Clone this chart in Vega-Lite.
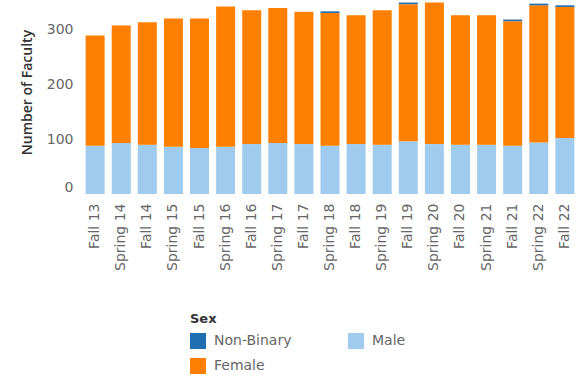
{
  "$schema": "https://vega.github.io/schema/vega-lite/v6.json",
  "autosize": "none",
  "width": 494,
  "height": 192,
  "padding": {"left": 83, "top": 2, "right": 0, "bottom": 183},
  "background": "white",
  "config": {
    "view": {"stroke": null},
    "font": "DejaVu Sans"
  },
  "data": {
    "values": [
      {"term": "Fall 13", "sex": "Male", "n": 88}, {"term": "Fall 13", "sex": "Female", "n": 201}, {"term": "Fall 13", "sex": "Non-Binary", "n": 0},
      {"term": "Spring 14", "sex": "Male", "n": 93}, {"term": "Spring 14", "sex": "Female", "n": 214}, {"term": "Spring 14", "sex": "Non-Binary", "n": 0},
      {"term": "Fall 14", "sex": "Male", "n": 90}, {"term": "Fall 14", "sex": "Female", "n": 223}, {"term": "Fall 14", "sex": "Non-Binary", "n": 0},
      {"term": "Spring 15", "sex": "Male", "n": 86}, {"term": "Spring 15", "sex": "Female", "n": 234}, {"term": "Spring 15", "sex": "Non-Binary", "n": 0},
      {"term": "Fall 15", "sex": "Male", "n": 84}, {"term": "Fall 15", "sex": "Female", "n": 236}, {"term": "Fall 15", "sex": "Non-Binary", "n": 0},
      {"term": "Spring 16", "sex": "Male", "n": 86}, {"term": "Spring 16", "sex": "Female", "n": 256}, {"term": "Spring 16", "sex": "Non-Binary", "n": 0},
      {"term": "Fall 16", "sex": "Male", "n": 91}, {"term": "Fall 16", "sex": "Female", "n": 244}, {"term": "Fall 16", "sex": "Non-Binary", "n": 0},
      {"term": "Spring 17", "sex": "Male", "n": 93}, {"term": "Spring 17", "sex": "Female", "n": 246}, {"term": "Spring 17", "sex": "Non-Binary", "n": 0},
      {"term": "Fall 17", "sex": "Male", "n": 91}, {"term": "Fall 17", "sex": "Female", "n": 241}, {"term": "Fall 17", "sex": "Non-Binary", "n": 0},
      {"term": "Spring 18", "sex": "Male", "n": 88}, {"term": "Spring 18", "sex": "Female", "n": 242}, {"term": "Spring 18", "sex": "Non-Binary", "n": 3},
      {"term": "Fall 18", "sex": "Male", "n": 91}, {"term": "Fall 18", "sex": "Female", "n": 235}, {"term": "Fall 18", "sex": "Non-Binary", "n": 0},
      {"term": "Spring 19", "sex": "Male", "n": 90}, {"term": "Spring 19", "sex": "Female", "n": 245}, {"term": "Spring 19", "sex": "Non-Binary", "n": 0},
      {"term": "Fall 19", "sex": "Male", "n": 96}, {"term": "Fall 19", "sex": "Female", "n": 250}, {"term": "Fall 19", "sex": "Non-Binary", "n": 3},
      {"term": "Spring 20", "sex": "Male", "n": 91}, {"term": "Spring 20", "sex": "Female", "n": 258}, {"term": "Spring 20", "sex": "Non-Binary", "n": 0},
      {"term": "Fall 20", "sex": "Male", "n": 90}, {"term": "Fall 20", "sex": "Female", "n": 236}, {"term": "Fall 20", "sex": "Non-Binary", "n": 0},
      {"term": "Spring 21", "sex": "Male", "n": 90}, {"term": "Spring 21", "sex": "Female", "n": 236}, {"term": "Spring 21", "sex": "Non-Binary", "n": 0},
      {"term": "Fall 21", "sex": "Male", "n": 88}, {"term": "Fall 21", "sex": "Female", "n": 227}, {"term": "Fall 21", "sex": "Non-Binary", "n": 3},
      {"term": "Spring 22", "sex": "Male", "n": 94}, {"term": "Spring 22", "sex": "Female", "n": 250}, {"term": "Spring 22", "sex": "Non-Binary", "n": 3},
      {"term": "Fall 22", "sex": "Male", "n": 102}, {"term": "Fall 22", "sex": "Female", "n": 239}, {"term": "Fall 22", "sex": "Non-Binary", "n": 3}
    ]
  },
  "transform": [
    {"calculate": "datum.sex === 'Male' ? 0 : datum.sex === 'Female' ? 1 : 2", "as": "stackOrder"}
  ],
  "mark": {"type": "bar", "width": 19},
  "encoding": {
    "x": {
      "field": "term",
      "type": "nominal",
      "sort": null,
      "scale": {"paddingInner": 0.27, "paddingOuter": 0.1},
      "axis": {
        "title": null,
        "labelAngle": -90,
        "labelAlign": "right",
        "labelBaseline": "middle",
        "labelFontSize": 14,
        "labelColor": "#666666",
        "labelPadding": 9,
        "ticks": false,
        "domain": false
      }
    },
    "y": {
      "field": "n",
      "type": "quantitative",
      "stack": "zero",
      "scale": {"domain": [0, 350], "nice": false},
      "axis": {
        "title": "Number of Faculty",
        "titleFont": "Open Sans",
        "titleFontSize": 14,
        "titleFontWeight": 600,
        "titleColor": "#333333",
        "titlePadding": 12,
        "titleY": 90,
        "values": [0, 100, 200, 300],
        "labelFontSize": 14,
        "labelColor": "#666666",
        "labelPadding": 10,
        "labelFlush": true,
        "ticks": false,
        "domain": false,
        "grid": false
      }
    },
    "color": {
      "field": "sex",
      "type": "nominal",
      "scale": {
        "domain": ["Non-Binary", "Female", "Male"],
        "range": ["#1f6eb0", "#ff8000", "#9fcbee"]
      },
      "legend": {
        "title": "Sex",
        "orient": "none",
        "legendX": 107,
        "legendY": 311,
        "columns": 2,
        "columnPadding": 56,
        "rowPadding": 9,
        "titlePadding": 7,
        "symbolType": "square",
        "symbolSize": 256,
        "symbolStrokeWidth": 0,
        "labelFontSize": 14,
        "labelColor": "#666666",
        "titleFontSize": 13,
        "titleFontWeight": "bold",
        "titleColor": "#333333",
        "labelOffset": 8
      }
    },
    "order": {"field": "stackOrder", "type": "quantitative"}
  }
}
